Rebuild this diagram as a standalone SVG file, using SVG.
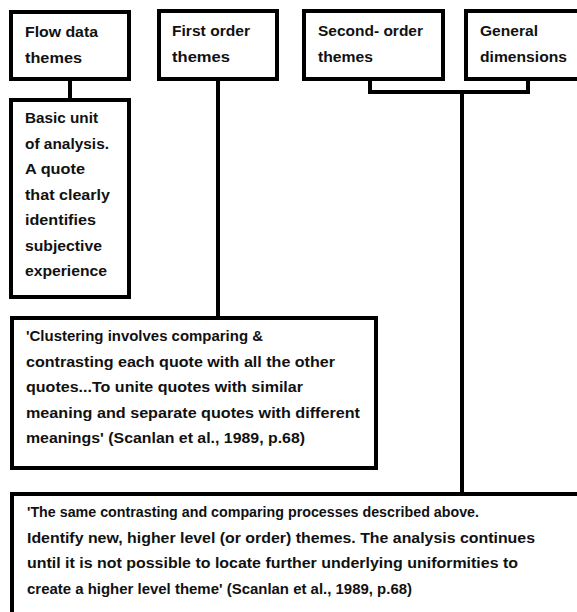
<svg xmlns="http://www.w3.org/2000/svg" width="577" height="612" viewBox="0 0 577 612">
<style>
.box{fill:#fff;stroke:#000;stroke-width:4}
.ln{fill:none;stroke:#000;stroke-width:4}
text{font-family:"Liberation Sans",Arial,sans-serif;font-weight:bold;font-size:15.5px;fill:#111}
</style>
<rect width="577" height="612" fill="#fff"/>
<g id="connectors">
<path class="ln" d="M70 79V100"/>
<path class="ln" d="M218 79V317"/>
<path class="ln" d="M370 79V92H528V79"/>
<path class="ln" d="M462 92V494"/>
</g>
<g id="flow">
<rect class="box" x="11" y="12" width="118" height="67"/>
<text x="25" y="37" textLength="73" lengthAdjust="spacingAndGlyphs">Flow data</text>
<text x="25" y="63" textLength="57" lengthAdjust="spacingAndGlyphs">themes</text>
</g>
<g id="first">
<rect class="box" x="159" y="11" width="118" height="68"/>
<text x="172" y="36" textLength="78" lengthAdjust="spacingAndGlyphs">First order</text>
<text x="172" y="62" textLength="58" lengthAdjust="spacingAndGlyphs">themes</text>
</g>
<g id="second">
<rect class="box" x="304" y="11" width="139" height="68"/>
<text x="318" y="36" textLength="105" lengthAdjust="spacingAndGlyphs">Second- order</text>
<text x="318" y="62" textLength="55" lengthAdjust="spacingAndGlyphs">themes</text>
</g>
<g id="general">
<rect class="box" x="466" y="11" width="120" height="68"/>
<text x="480" y="36" textLength="58" lengthAdjust="spacingAndGlyphs">General</text>
<text x="480" y="62" textLength="87" lengthAdjust="spacingAndGlyphs">dimensions</text>
</g>
<g id="basic">
<rect class="box" x="11" y="100" width="118" height="197"/>
<text x="25" y="123" textLength="73" lengthAdjust="spacingAndGlyphs">Basic unit</text>
<text x="25" y="149" textLength="84" lengthAdjust="spacingAndGlyphs">of analysis.</text>
<text x="25" y="174" textLength="60" lengthAdjust="spacingAndGlyphs">A quote</text>
<text x="25" y="200" textLength="85" lengthAdjust="spacingAndGlyphs">that clearly</text>
<text x="25" y="225" textLength="71" lengthAdjust="spacingAndGlyphs">identifies</text>
<text x="25" y="251" textLength="77" lengthAdjust="spacingAndGlyphs">subjective</text>
<text x="25" y="276" textLength="82" lengthAdjust="spacingAndGlyphs">experience</text>
</g>
<g id="clustering">
<rect class="box" x="12" y="318" width="364" height="150"/>
<text x="26" y="341" textLength="237" lengthAdjust="spacingAndGlyphs">'Clustering involves comparing &amp;</text>
<text x="26" y="367" textLength="309" lengthAdjust="spacingAndGlyphs">contrasting each quote with all the other</text>
<text x="26" y="392" textLength="277" lengthAdjust="spacingAndGlyphs">quotes...To unite quotes with similar</text>
<text x="26" y="418" textLength="334" lengthAdjust="spacingAndGlyphs">meaning and separate quotes with different</text>
<text x="26" y="443" textLength="279" lengthAdjust="spacingAndGlyphs">meanings' (Scanlan et al., 1989, p.68)</text>
</g>
<g id="same">
<rect class="box" x="12" y="494" width="580" height="130"/>
<text x="27" y="517" textLength="452" lengthAdjust="spacingAndGlyphs">'The same contrasting and comparing processes described above.</text>
<text x="27" y="543" textLength="508" lengthAdjust="spacingAndGlyphs">Identify new, higher level (or order) themes. The analysis continues</text>
<text x="27" y="568" textLength="491" lengthAdjust="spacingAndGlyphs">until it is not possible to locate further underlying uniformities to</text>
<text x="27" y="594" textLength="385" lengthAdjust="spacingAndGlyphs">create a higher level theme' (Scanlan et al., 1989, p.68)</text>
</g>
</svg>
